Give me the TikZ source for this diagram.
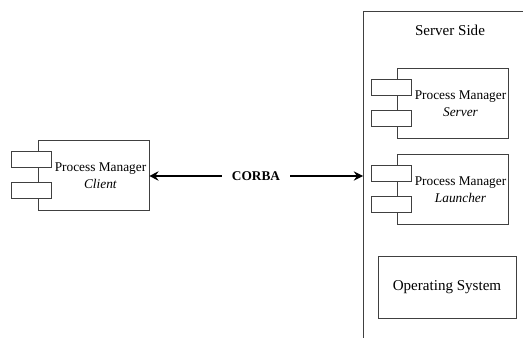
\documentclass[tikz,border=0pt]{standalone}
\usepackage{fontspec}
\setmainfont{Liberation Serif}
\usetikzlibrary{positioning, arrows.meta}

\tikzset{
  comp/.style={draw=black!75, fill=white, thin, minimum width=83.25pt, minimum height=52.5pt, inner sep=0pt},
  port/.style={draw=black!75, fill=white, thin, minimum width=30pt, minimum height=11.8pt, inner sep=0pt},
  lbl/.style={align=center, font=\fontsize{10}{13}\selectfont, inner sep=0pt},
  link/.style={line width=0.9pt, -{Stealth[length=7pt, width=7pt, inset=2.5pt]}}
}

\begin{document}
\begin{tikzpicture}[x=0.75pt, y=-0.75pt]
\useasboundingbox (0,0) rectangle (523,338);

% client side
\node[comp] (client) at (93.5,175.5) {};
\node[port] (clientA) at (31.5,159) {};
\node[port] (clientB) at (31.5,190.5) {};
\node[lbl] (clientText) at (100.5,175.5) {Process Manager\\\textit{Client}};

% server side, open to the right
\draw[black!75, thin] (523,11) -- (363,11) -- (363,338);
\coordinate (serverEdge) at (363,176);
\node[lbl, font=\fontsize{11.3}{13.5}\selectfont] (serverTitle) at (450,30) {Server Side};

\node[comp] (server) at (453,103.5) {};
\node[port] (serverA) at (391,87.5) {};
\node[port] (serverB) at (391,118.5) {};
\node[lbl] (serverText) at (460.5,103.5) {Process Manager\\\textit{Server}};

\node[comp] (launcher) at (453,189.5) {};
\node[port] (launcherA) at (391,173) {};
\node[port] (launcherB) at (391,204) {};
\node[lbl] (launcherText) at (460.5,189.5) {Process Manager\\\textit{Launcher}};

\node[draw=black!75, thin, minimum width=103.5pt, minimum height=46.5pt, inner sep=0pt,
  font=\fontsize{11.3}{13.5}\selectfont] (os) at (447,287) {Operating System};

% corba link
\node[font=\fontsize{10}{13}\selectfont\bfseries, minimum width=51pt, inner sep=0pt] (corba) at (256,176) {CORBA};
\draw[link] (corba.west) -- (client.east |- corba.west);
\draw[link] (corba.east) -- (serverEdge);

\end{tikzpicture}
\end{document}
